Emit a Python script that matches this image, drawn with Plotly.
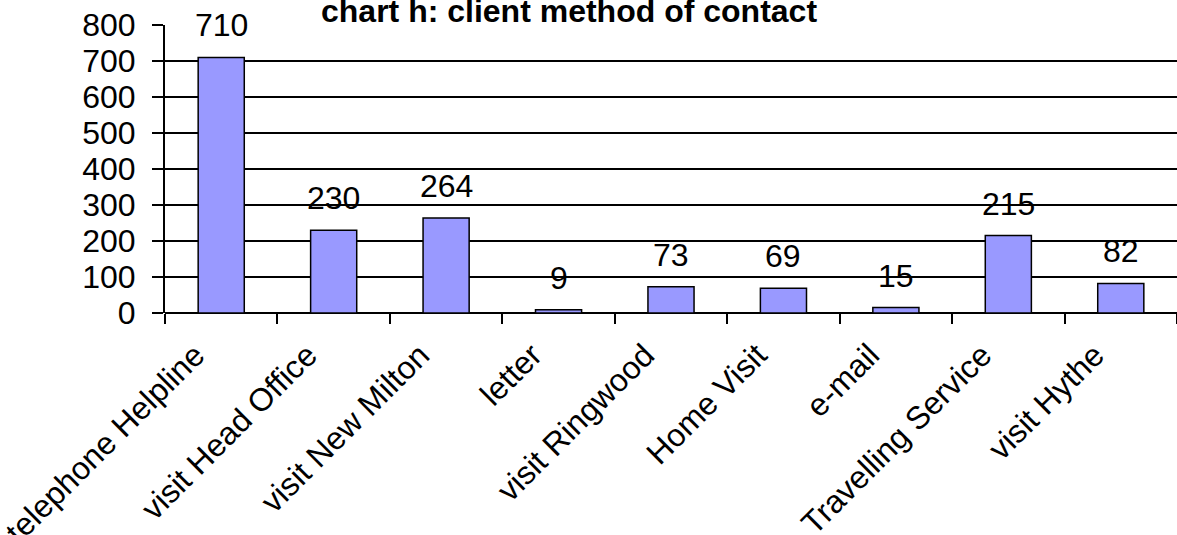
import plotly.graph_objects as go

categories = ["telephone Helpline", "visit Head Office", "visit New Milton", "letter",
              "visit Ringwood", "Home Visit", "e-mail", "Travelling Service", "visit Hythe"]
values = [710, 230, 264, 9, 73, 69, 15, 215, 82]
y_ticks = [0, 100, 200, 300, 400, 500, 600, 700, 800]
title_text = "chart h: client method of contact"

FONT = "Liberation Sans, Arial, sans-serif"
FS = 32

fig = go.Figure()
fig.add_trace(go.Bar(
    x=categories, y=values, width=0.41,
    marker=dict(color="#9999FF", line=dict(color="black", width=1.5)),
    hoverinfo="x+y",
))

annotations = []
for c, v in zip(categories, values):
    annotations.append(dict(x=c, y=v, xref="x", yref="y", text=str(v), showarrow=False,
                            yanchor="bottom", yshift=12,
                            font=dict(family=FONT, size=FS, color="black")))
annotations.append(dict(x=0.399, y=0.978, xref="paper", yref="paper", text="<b>" + title_text + "</b>",
                        showarrow=False, xanchor="center", yanchor="bottom",
                        font=dict(family=FONT, size=32, color="black")))

fig.update_layout(
    width=1177, height=535,
    margin=dict(l=165, r=0, t=25, b=222),
    paper_bgcolor="white", plot_bgcolor="white",
    showlegend=False,
    font=dict(family=FONT, size=FS, color="black"),
    annotations=annotations,
)
fig.update_xaxes(
    type="category", tickangle=-45, tickmode="array", tickvals=categories,
    ticks="outside", ticklen=10, tickwidth=2, tickcolor="black",
    tickson="boundaries", showgrid=False,
    showline=False, zeroline=False,
    tickfont=dict(family=FONT, size=FS, color="black"),
    ticklabelshift=-26, ticklabelstandoff=16,
    ticklabeloverflow="allow",
    automargin=False,
)
fig.update_yaxes(
    range=[0, 800], tickmode="array", tickvals=y_ticks,
    ticks="outside", ticklen=11, tickwidth=2, tickcolor="black",
    showgrid=True, gridcolor="black", gridwidth=2,
    showline=True, linecolor="black", linewidth=2,
    zeroline=True, zerolinecolor="black", zerolinewidth=2,
    tickfont=dict(family=FONT, size=FS, color="black"),
    ticklabelstandoff=10,
    ticklabeloverflow="allow",
    automargin=False,
)
fig.write_html("out.html", config={"displayModeBar": False},
               post_script="document.body.style.margin='0';")
